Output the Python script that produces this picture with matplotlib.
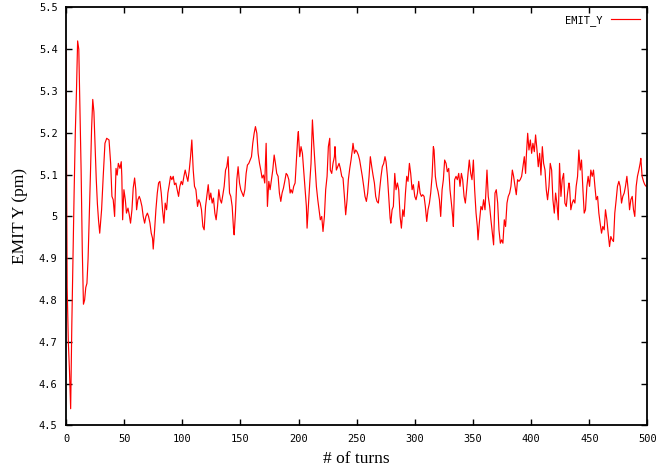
import numpy as np
import matplotlib
matplotlib.use('Agg')
import matplotlib.pyplot as plt

# valeurs (tours, emittance en pm)
turns = [0, 1, 2, 3, 4, 5, 6, 7, 8, 9, 10, 11, 12, 13, 14, 15, 16, 17, 18, 19,
         20, 21, 22, 23, 24, 25, 26, 27, 28, 29, 30.6, 32, 33.5, 35, 37, 38.4,
         39.5, 40.6, 41.8, 43, 44, 45, 46.4, 47.5, 48, 48.7, 49.8, 51, 52, 53.3,
         54.4, 55.5, 56.7, 57.8, 59, 60, 60.7, 61.8, 63, 64, 65.3, 66.4, 67.6,
         68.7, 70, 71, 72.2, 73.3, 74.4, 75, 76.2, 77.3, 78.5, 79.6, 80.7, 81.9,
         83, 84.2, 85.3, 86.5, 87.6, 88.8, 89.9, 91, 92.2, 93.3, 94.5, 95.6,
         96.8, 97.9, 99.1, 100.2, 101.4, 102.5, 103.7, 104.8, 106, 107.1, 108.2,
         109.4, 110.5, 111.7, 113.1, 114.2, 115.4, 116.5, 117.7, 118.8, 120,
         121.1, 122.3, 123.4, 124.5, 125.7, 126.8, 128, 129.1, 130.3, 131.4,
         132.6, 133.7, 134.9, 136, 137.2, 138.3, 139.4, 140.6, 141.7, 142.9, 144,
         144.6, 145.7, 146.9, 148, 149.2, 150.3, 151.5, 152.6, 153.8, 154.9, 156,
         157.2, 158.3, 159.5, 160.6, 161.8, 162.9, 164.1, 165.2, 166.4, 167.5,
         168.6, 169.8, 170.9, 172.1, 173.2, 174.4, 175.5, 176.7, 177.8, 179,
         180.1, 181.2, 182.4, 183.5, 184.7, 185.8, 187, 188.1, 189.3, 190.4,
         191.6, 192.7, 193.5, 194.7, 195.8, 197, 198.1, 199.3, 199.8, 201, 202.1,
         203.3, 204.4, 205.6, 206.7, 207.3, 208.4, 209.6, 210.7, 211.9, 213,
         214.2, 215.3, 216.5, 217.6, 218.7, 219.9, 221, 222.2, 223.3, 224.5,
         225.6, 226.8, 227.3, 228.5, 229.6, 230.8, 231.3, 232.5, 233.6, 234.8,
         235.9, 237.1, 238.2, 239.4, 240.5, 241.7, 242.8, 244, 245.1, 246.2,
         246.8, 248, 249.1, 250.2, 251.4, 252.5, 253.7, 254.8, 256, 257.1, 258.3,
         259.4, 260.6, 261.7, 262.9, 264, 265.2, 266.3, 267.4, 268.6, 269.7,
         270.9, 272, 273.2, 274.3, 275.2, 276.4, 277.5, 278.7, 279.3, 280.4,
         281.5, 282.7, 283.8, 285, 286.1, 287.3, 288.4, 289.6, 290.7, 291.9, 293,
         294.1, 295.3, 296.4, 297.6, 298.7, 299.9, 301, 302.2, 303.3, 304.5,
         305.6, 306.7, 307.9, 309, 310.2, 311.3, 312.5, 313.6, 314.8, 315.9,
         316.5, 317.6, 318.8, 319.9, 321.1, 322.2, 323.4, 324.5, 325.6, 326.8,
         327.9, 329.1, 330.2, 331.4, 332.5, 333.1, 334.2, 335.4, 336.5, 337.7,
         338.8, 340, 341.1, 342.3, 343.4, 344.5, 345.7, 346.8, 348, 349.1, 350.3,
         351.4, 352.6, 353.7, 354.3, 355.4, 356.8, 358, 359.1, 360.3, 361.4, 362,
         363.1, 364.3, 365.4, 366.6, 367.7, 368.9, 370, 371.2, 372.3, 373.5,
         374.6, 375.7, 376.9, 378, 379.2, 380.3, 381.5, 382.6, 383.8, 384.9,
         386.1, 387.2, 388.3, 389.5, 390.6, 391.8, 392.9, 394.1, 395.2, 395.8,
         397, 398.1, 399.3, 400.4, 401.5, 402.7, 403.8, 405, 406.1, 407.3, 408.4,
         409.6, 410.7, 411.9, 413, 414.1, 415.3, 416.4, 417.6, 418.7, 419.9, 421,
         422.1, 423.3, 424.4, 425.6, 426.7, 427.9, 429, 430.2, 431.3, 432.5, 433,
         434.1, 435.3, 436.4, 437.6, 438.7, 439.9, 441, 442.2, 443.3, 444.5,
         445.6, 446.7, 447.9, 449, 450.2, 451.3, 452.5, 453.6, 454.8, 455.9,
         457.1, 458.2, 459.3, 460.5, 461.6, 462.8, 463.9, 465.1, 466.2, 467.4,
         468.5, 469.7, 470.8, 471.9, 473.1, 474.2, 475.4, 476.5, 477.7, 478.8,
         480, 481.1, 482.3, 483.4, 484.6, 485.7, 486.9, 488, 489.1, 490.3, 491.4,
         492.6, 493.7, 494.3, 495.4, 496.6, 497.7, 498.9]

emit_y = [5.41, 4.83, 4.70, 4.63, 4.54, 4.74, 4.90, 5.06, 5.20, 5.30, 5.42, 5.40,
          5.25, 5.11, 4.92, 4.79, 4.80, 4.83, 4.84, 4.90, 5.00, 5.10, 5.21, 5.28,
          5.25, 5.17, 5.09, 5.03, 4.99, 4.96, 5.016, 5.096, 5.175, 5.187, 5.183,
          5.127, 5.048, 5.040, 5.000, 5.115, 5.099, 5.127, 5.115, 5.131, 5.096,
          4.992, 5.064, 5.040, 5.008, 5.020, 5.004, 4.984, 5.016, 5.068, 5.092,
          5.064, 5.016, 5.040, 5.048, 5.040, 5.024, 5.000, 4.984, 5.000, 5.008,
          5.000, 4.984, 4.960, 4.948, 4.922, 4.968, 5.016, 5.056, 5.080, 5.084,
          5.056, 5.016, 4.984, 5.032, 5.016, 5.056, 5.076, 5.096, 5.088, 5.096,
          5.076, 5.080, 5.064, 5.048, 5.072, 5.084, 5.076, 5.096, 5.111, 5.096,
          5.084, 5.111, 5.143, 5.183, 5.111, 5.072, 5.064, 5.024, 5.040, 5.032,
          5.016, 4.976, 4.968, 5.024, 5.048, 5.076, 5.040, 5.056, 5.032, 5.044,
          5.008, 4.992, 5.024, 5.064, 5.040, 5.032, 5.052, 5.072, 5.111, 5.119,
          5.143, 5.056, 5.048, 5.024, 4.972, 4.956, 5.008, 5.088, 5.119, 5.080,
          5.064, 5.056, 5.048, 5.064, 5.103, 5.123, 5.127, 5.135, 5.143, 5.175,
          5.199, 5.215, 5.199, 5.151, 5.127, 5.111, 5.092, 5.099, 5.080, 5.175,
          5.024, 5.084, 5.064, 5.088, 5.111, 5.147, 5.127, 5.103, 5.096, 5.056,
          5.036, 5.056, 5.068, 5.084, 5.103, 5.099, 5.088, 5.056, 5.064, 5.056,
          5.072, 5.080, 5.135, 5.191, 5.203, 5.143, 5.167, 5.151, 5.111, 5.064,
          5.024, 4.972, 5.024, 5.080, 5.127, 5.231, 5.175, 5.119, 5.072, 5.040,
          5.016, 4.992, 5.000, 4.964, 5.000, 5.064, 5.096, 5.167, 5.187, 5.111,
          5.103, 5.127, 5.143, 5.167, 5.111, 5.119, 5.127, 5.115, 5.096, 5.092,
          5.048, 5.004, 5.040, 5.088, 5.115, 5.135, 5.159, 5.175, 5.151, 5.159,
          5.155, 5.147, 5.135, 5.115, 5.096, 5.072, 5.048, 5.036, 5.056, 5.096,
          5.143, 5.119, 5.099, 5.080, 5.048, 5.036, 5.032, 5.064, 5.096, 5.119,
          5.127, 5.143, 5.131, 5.096, 5.048, 4.996, 4.984, 5.016, 5.024, 5.103,
          5.064, 5.080, 5.064, 5.000, 4.972, 5.016, 5.000, 5.056, 5.096, 5.084,
          5.127, 5.103, 5.064, 5.076, 5.048, 5.040, 5.056, 5.084, 5.056, 5.048,
          5.052, 5.048, 5.024, 4.988, 5.016, 5.032, 5.056, 5.096, 5.167, 5.159,
          5.096, 5.072, 5.060, 5.040, 5.000, 5.064, 5.088, 5.135, 5.127, 5.107,
          5.115, 5.064, 5.032, 5.000, 4.976, 5.088, 5.096, 5.088, 5.103, 5.072,
          5.103, 5.088, 5.048, 5.032, 5.064, 5.103, 5.135, 5.103, 5.088, 5.135,
          5.064, 5.008, 4.976, 4.944, 4.984, 5.024, 5.016, 5.040, 5.016, 5.080,
          5.111, 5.048, 5.024, 4.992, 4.960, 4.932, 5.056, 5.064, 5.032, 4.968,
          4.936, 4.944, 4.936, 4.992, 4.976, 5.032, 5.048, 5.056, 5.072, 5.111,
          5.096, 5.072, 5.052, 5.088, 5.084, 5.088, 5.096, 5.119, 5.143, 5.103,
          5.143, 5.199, 5.159, 5.183, 5.151, 5.175, 5.155, 5.195, 5.159, 5.119,
          5.151, 5.099, 5.167, 5.127, 5.111, 5.064, 5.040, 5.072, 5.127, 5.111,
          5.040, 5.008, 5.056, 5.032, 4.992, 5.127, 5.048, 5.088, 5.103, 5.032,
          5.024, 5.056, 5.080, 5.072, 5.016, 5.032, 5.040, 5.032, 5.072, 5.096,
          5.159, 5.111, 5.135, 5.064, 5.008, 5.016, 5.072, 5.096, 5.072, 5.111,
          5.096, 5.111, 5.072, 5.040, 5.048, 5.008, 4.984, 4.960, 4.976, 4.968,
          5.016, 4.992, 4.960, 4.928, 4.952, 4.944, 4.940, 5.008, 5.040, 5.072,
          5.084, 5.072, 5.032, 5.048, 5.056, 5.072, 5.096, 5.064, 5.016, 5.040,
          5.048, 5.016, 5.000, 5.072, 5.096, 5.111, 5.127, 5.139, 5.096, 5.084,
          5.076, 5.072]

x_ticks = np.arange(0, 501, 50)
y_ticks = np.round(np.arange(4.5, 5.51, 0.1), 1)
y_labels = ['4.5', '4.6', '4.7', '4.8', '4.9', '5', '5.1', '5.2', '5.3', '5.4', '5.5']

tick_font = 'DejaVu Sans Mono'
label_font = 'Liberation Serif'

fig = plt.figure(figsize=(6.6, 4.67), dpi=100)
ax = fig.add_axes([0.1, 0.089, 0.881, 0.895])

ax.plot(turns, emit_y, color='red', linewidth=0.85, label='EMIT_Y')

ax.set_xlim(0, 500)
ax.set_ylim(4.5, 5.5)
ax.set_xticks(x_ticks)
ax.set_yticks(y_ticks)
ax.set_yticklabels(y_labels)
ax.tick_params(direction='in', length=4, width=1, top=True, right=True,
               labelsize=7.5, pad=6, colors='black')
for lab in ax.get_xticklabels() + ax.get_yticklabels():
    lab.set_family(tick_font)
for s in ax.spines.values():
    s.set_linewidth(1.3)

ax.set_xlabel('# of turns', family=label_font, fontsize=12.5, labelpad=5)
ax.set_ylabel('EMIT Y (pm)', family=label_font, fontsize=12.5, labelpad=8)

leg = ax.legend(loc='upper right', frameon=False, markerfirst=False,
                handlelength=2.8, handletextpad=0.8, borderaxespad=0.3,
                prop={'family': tick_font, 'size': 7.5})

fig.savefig('out.png', dpi=100)
